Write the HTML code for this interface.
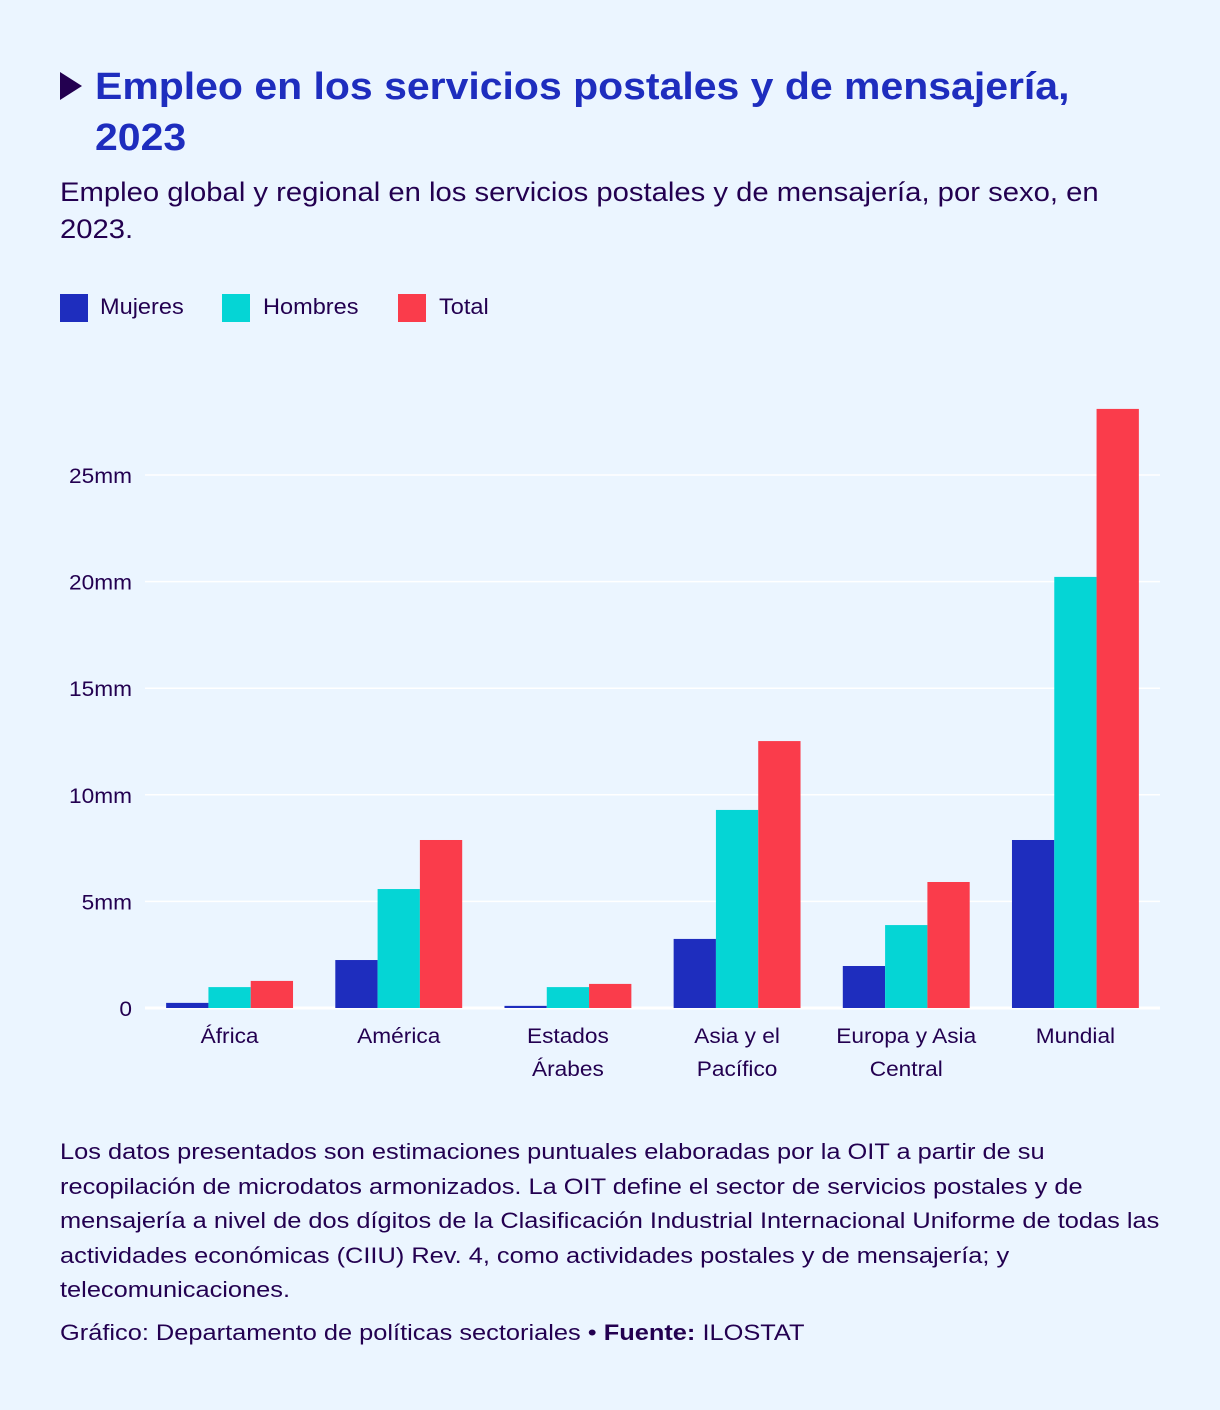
<!DOCTYPE html>
<html><head><meta charset="utf-8">
<style>
html,body{margin:0;padding:0;}
body{width:1220px;height:1410px;background:#ebf5ff;font-family:"Liberation Sans","Noto Sans CJK JP",sans-serif;color:#230050;position:relative;overflow:hidden;}
.abs{position:absolute;white-space:nowrap;transform-origin:0 0;}
#title{left:95px;top:62px;font-size:38px;font-weight:bold;color:#1e2dbe;line-height:51px;transform:scaleX(1.078);}
#sub{left:60px;top:174px;font-size:27px;line-height:37px;transform:scaleX(1.083);}
.leg{top:292px;font-size:22px;line-height:30px;transform:scaleX(1.07);}
.sw{position:absolute;width:28px;height:28px;top:294px;}
#note{left:60px;top:1135px;font-size:22px;line-height:34.5px;transform:scaleX(1.154);}
#credit{left:60px;top:1316px;font-size:22px;line-height:34px;transform:scaleX(1.154);}
</style></head><body>
<svg class="abs" style="left:60px;top:72px" width="22" height="28"><polygon points="0,0 22,14 0,28" fill="#230050"/></svg>
<div id="title" class="abs">Empleo en los servicios postales y de mensajería,<br>2023</div>
<div id="sub" class="abs">Empleo global y regional en los servicios postales y de mensajería, por sexo, en<br>2023.</div>
<div class="sw" style="left:60px;background:#1e2dbe"></div>
<div class="abs leg" style="left:100px">Mujeres</div>
<div class="sw" style="left:222px;background:#05d5d5"></div>
<div class="abs leg" style="left:263px">Hombres</div>
<div class="sw" style="left:398px;background:#fa3c4b"></div>
<div class="abs leg" style="left:439px">Total</div>
<svg id="chart" class="abs" style="left:0;top:0" width="1220" height="1100"></svg>
<div id="note" class="abs">Los datos presentados son estimaciones puntuales elaboradas por la OIT a partir de su<br>recopilación de microdatos armonizados. La OIT define el sector de servicios postales y de<br>mensajería a nivel de dos dígitos de la Clasificación Industrial Internacional Uniforme de todas las<br>actividades económicas (CIIU) Rev. 4, como actividades postales y de mensajería; y<br>telecomunicaciones.</div>
<div id="credit" class="abs">Gráfico: Departamento de políticas sectoriales • <b>Fuente:</b> ILOSTAT</div>
<script>
const categories=[["África"],["América"],["Estados","Árabes"],["Asia y el","Pacífico"],["Europa y Asia","Central"],["Mundial"]];
const mujeres=[0.24,2.25,0.1,3.24,1.97,7.88];
const hombres=[0.98,5.58,0.98,9.29,3.89,20.22];
const total=[1.27,7.88,1.13,12.52,5.91,28.1];
const ticks=[0,5,10,15,20,25];
const tickLabels=["0","5mm","10mm","15mm","20mm","25mm"];
const NS="http://www.w3.org/2000/svg";
const svg=document.getElementById('chart');
const x0=145,x1=1160,y0=1008,yPer=(1008-475)/25;
const y=v=>y0-v*yPer;
const gw=(x1-x0)/categories.length, bw=42.3;
const gx=i=>x0+gw*i+gw/2;
function mk(t,a){const e=document.createElementNS(NS,t);for(const k in a)e.setAttribute(k,a[k]);svg.appendChild(e);return e;}
ticks.forEach((t,i)=>{
  const l=mk('line',{x1:x0,x2:x1,y1:y(t),y2:y(t),stroke:'#ffffff','stroke-width':i==0?3:1.5});
  
  
  const tx=mk('text',{x:132,y:y(t)+8,'text-anchor':'end','font-size':21,fill:'#230050',textLength:'',});
  tx.removeAttribute('textLength');
  tx.textContent=tickLabels[i];
  tx.setAttribute('transform','translate(132,0) scale(1.08,1) translate(-132,0)');
  
  
});
const series=[[mujeres,'#1e2dbe','mujeres'],[hombres,'#05d5d5','hombres'],[total,'#fa3c4b','total']];
categories.forEach((c,i)=>{
  series.forEach((s,j)=>{
    const v=s[0][i];
    const r=mk('rect',{x:gx(i)-1.5*bw+j*bw,y:y(v),width:bw,height:y0-y(v),fill:s[1]});
    
    
  });
  c.forEach((line,k)=>{
    const t=mk('text',{x:gx(i),y:1043+k*33,'text-anchor':'middle','font-size':21,fill:'#230050'});
    t.textContent=line;
    t.setAttribute('transform','translate('+gx(i)+',0) scale(1.08,1) translate('+(-gx(i))+',0)');
    
    
  });
});
</script>
</body></html>
